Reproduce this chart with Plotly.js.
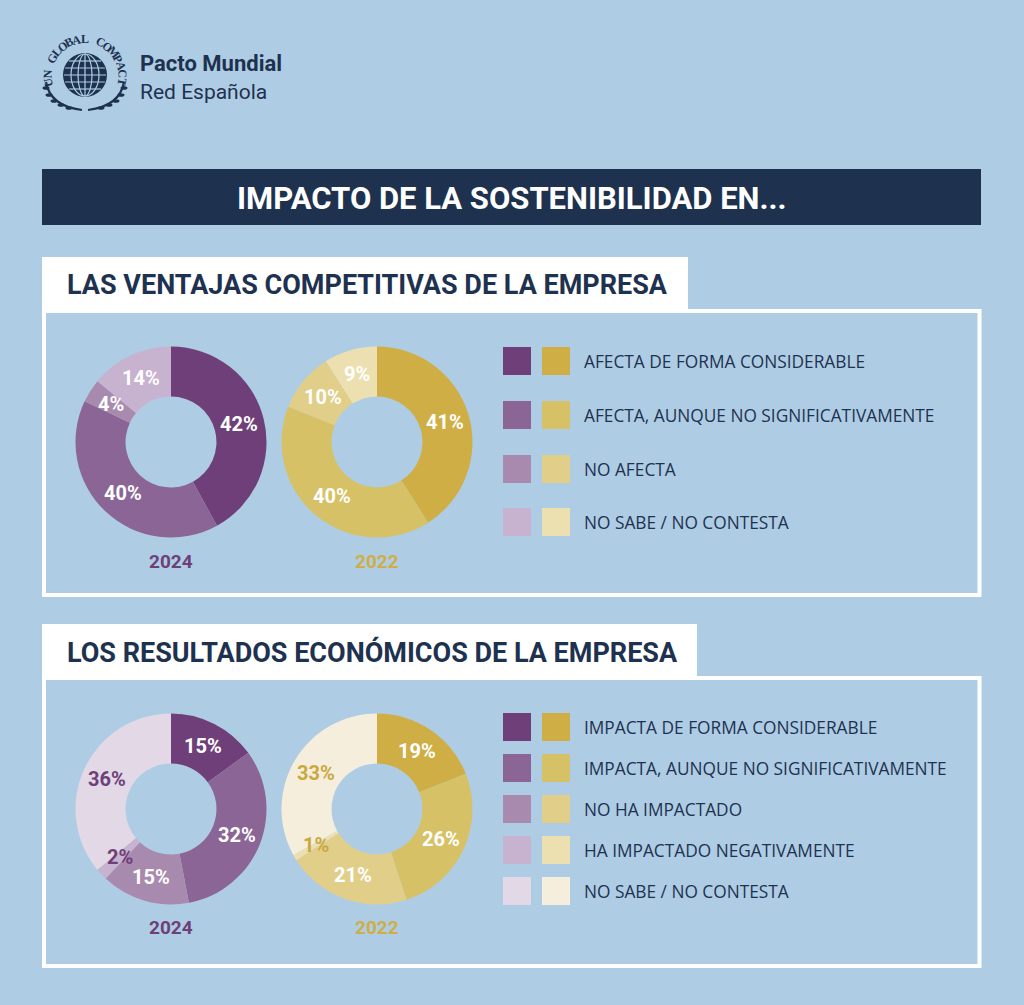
<!DOCTYPE html>
<html>
<head>
<meta charset="utf-8">
<script src="https://cdn.plot.ly/plotly-3.0.1.min.js"></script>
<style>
html,body{margin:0;padding:0;background:#AECDE4;}
#chart{width:1024px;height:1005px;}
</style>
</head>
<body>
<div id="chart"></div>
<script>
// ---------- DATA ----------
const years = ['2024', '2022'];
const titleMain = 'IMPACTO DE LA SOSTENIBILIDAD EN...';
const section1Title = 'LAS VENTAJAS COMPETITIVAS DE LA EMPRESA';
const section2Title = 'LOS RESULTADOS ECONÓMICOS DE LA EMPRESA';
const cats1 = ['AFECTA DE FORMA CONSIDERABLE', 'AFECTA, AUNQUE NO SIGNIFICATIVAMENTE', 'NO AFECTA', 'NO SABE / NO CONTESTA'];
const ventajas2024 = [42, 40, 4, 14];
const ventajas2022 = [41, 40, 10, 9];
const cats2 = ['IMPACTA DE FORMA CONSIDERABLE', 'IMPACTA, AUNQUE NO SIGNIFICATIVAMENTE', 'NO HA IMPACTADO', 'HA IMPACTADO NEGATIVAMENTE', 'NO SABE / NO CONTESTA'];
const resultados2024 = [15, 32, 15, 2, 36];
const resultados2022 = [19, 26, 21, 1, 33];
const purples = ['#6E3F78', '#8A6596', '#A88AAE', '#C7B2CF', '#E2D8E6'];
const golds = ['#CFAF45', '#D7C166', '#E1CE88', '#ECE0B0', '#F5EEDC'];
// label colours per slice (white on dark slices, tinted on pale ones)
const labelCol1_2024 = ['#FFFFFF', '#FFFFFF', '#FFFFFF', '#FFFFFF'];
const labelCol1_2022 = ['#FFFFFF', '#FFFFFF', '#FFFFFF', '#FFFFFF'];
const labelCol2_2024 = ['#FFFFFF', '#FFFFFF', '#FFFFFF', '#6E3F78', '#6E3F78'];
const labelCol2_2022 = ['#FFFFFF', '#FFFFFF', '#FFFFFF', '#C9A93F', '#C9A93F'];

// ---------- HELPERS ----------
const W = 1024, H = 1005;
const px = x => x / W;
const py = y => 1 - y / H;
const NAVY = '#1E3250';
const BG = '#AECDE4';
const HOLE = 0.476;
const R = 95.5;

const traces = [];
const annotations = [];
const shapes = [];

function donut(values, colors, labelColors, cx, cy, name) {
  traces.push({
    type: 'pie',
    values: values,
    labels: values.map((v, i) => name + '-' + i),
    sort: false,
    direction: 'clockwise',
    rotation: 0,
    hole: HOLE,
    marker: {colors: colors.slice(0, values.length), line: {width: 0}},
    textinfo: 'none',
    hoverinfo: 'none',
    showlegend: false,
    domain: {x: [px(cx - R), px(cx + R)], y: [py(cy + R), py(cy - R)]}
  });
  const total = values.reduce((a, b) => a + b, 0);
  let cum = 0;
  const rm = R * (1 + HOLE) / 2;
  values.forEach((v, i) => {
    const f = (cum + v / 2) / total;
    cum += v;
    const th = 2 * Math.PI * f;
    annotations.push({
      xref: 'paper', yref: 'paper',
      x: px(cx + rm * Math.sin(th)), y: py(cy - rm * Math.cos(th)),
      text: '<b>' + v + '%</b>', showarrow: false,
      xanchor: 'center', yanchor: 'middle',
      font: {family: 'Roboto, sans-serif', size: 20, color: labelColors[i]}
    });
  });
}

function text(x, y, t, size, color, family, anchor, extra) {
  annotations.push(Object.assign({
    xref: 'paper', yref: 'paper', x: px(x), y: py(y), text: t, showarrow: false,
    xanchor: anchor || 'left', yanchor: 'middle',
    font: {family: family || 'Roboto, sans-serif', size: size, color: color}
  }, extra || {}));
}

function rect(x0, y0, x1, y1, fill, line) {
  shapes.push({
    type: 'rect', xref: 'paper', yref: 'paper', layer: 'below',
    x0: px(x0), x1: px(x1), y0: py(y1), y1: py(y0),
    fillcolor: fill, line: line || {width: 0}
  });
}

// ---------- LOGO ----------
const gx = 85, gy = 75, gr = 22;
shapes.push({type: 'circle', xref: 'paper', yref: 'paper', x0: px(gx - gr), x1: px(gx + gr), y0: py(gy + gr), y1: py(gy - gr), fillcolor: NAVY, line: {width: 0}});
[7, 14].forEach(rx => {
  shapes.push({type: 'circle', xref: 'paper', yref: 'paper', x0: px(gx - rx), x1: px(gx + rx), y0: py(gy + gr - 1), y1: py(gy - gr + 1), line: {color: BG, width: 1.2}});
});
shapes.push({type: 'line', xref: 'paper', yref: 'paper', x0: px(gx), x1: px(gx), y0: py(gy + gr - 1), y1: py(gy - gr + 1), line: {color: BG, width: 1.2}});
[-14, -7, 0, 7, 14].forEach(dy => {
  const hw = Math.sqrt(gr * gr - dy * dy) - 1;
  shapes.push({type: 'line', xref: 'paper', yref: 'paper', x0: px(gx - hw), x1: px(gx + hw), y0: py(gy + dy), y1: py(gy + dy), line: {color: BG, width: 1.2}});
});
function pathPx(pts) {
  return pts.map((p, i) => (p[0] === 'Q' ? 'Q' + px(p[1]) + ',' + py(p[2]) + ' ' + px(p[3]) + ',' + py(p[4]) : (i === 0 ? 'M' : 'L') + px(p[0]) + ',' + py(p[1]))).join(' ');
}
shapes.push({type: 'path', xref: 'paper', yref: 'paper', path: pathPx([[46, 82], ['Q', 50, 106, 82, 110]]), line: {color: NAVY, width: 2.2}});
shapes.push({type: 'path', xref: 'paper', yref: 'paper', path: pathPx([[124, 82], ['Q', 120, 106, 88, 110]]), line: {color: NAVY, width: 2.2}});
// laurel leaves
[[46, 88], [49, 95], [54, 101], [61, 105], [69, 108]].forEach(p => {
  shapes.push({type: 'circle', xref: 'paper', yref: 'paper', x0: px(p[0] - 3.5), x1: px(p[0] + 3.5), y0: py(p[1] + 1.8), y1: py(p[1] - 1.8), fillcolor: NAVY, line: {width: 0}});
  const q = [2 * gx - p[0], p[1]];
  shapes.push({type: 'circle', xref: 'paper', yref: 'paper', x0: px(q[0] - 3.5), x1: px(q[0] + 3.5), y0: py(q[1] + 1.8), y1: py(q[1] - 1.8), fillcolor: NAVY, line: {width: 0}});
});
const arcText = 'UN GLOBAL COMPACT';
const a0 = -100, a1 = 100, ar = 37;
arcText.split('').forEach((ch, i) => {
  if (ch === ' ') return;
  const a = a0 + (a1 - a0) * i / (arcText.length - 1);
  const t = a * Math.PI / 180;
  annotations.push({
    xref: 'paper', yref: 'paper', x: px(gx + ar * Math.sin(t)), y: py(gy + 1 - ar * Math.cos(t)),
    text: '<b>' + ch + '</b>', showarrow: false, textangle: a, xanchor: 'center', yanchor: 'middle',
    font: {family: 'Liberation Serif, serif', size: 12, color: NAVY}
  });
});
text(138, 64, '<b>Pacto Mundial</b>', 22, NAVY, 'Roboto, sans-serif');
text(138, 92, 'Red Española', 21, NAVY, 'Roboto, sans-serif');

// ---------- HEADER BAR ----------
rect(42, 169, 981, 225, NAVY);
text(511, 198, '<b>' + titleMain + '</b>', 31, '#FFFFFF', 'Roboto, sans-serif', 'center');

// ---------- SECTION 1 ----------
rect(42, 257, 688, 311, '#FFFFFF');
rect(44, 311, 979.5, 595, 'rgba(0,0,0,0)', {color: '#FFFFFF', width: 4});
text(65, 285, '<b>' + section1Title + '</b>', 27, NAVY, 'Roboto, sans-serif');
donut(ventajas2024, purples, labelCol1_2024, 171, 442, 'v24');
donut(ventajas2022, golds, labelCol1_2022, 377, 442, 'v22');
text(171, 561, '<b>' + years[0] + '</b>', 19, purples[0], 'Roboto, sans-serif', 'center');
text(377, 561, '<b>' + years[1] + '</b>', 19, golds[0], 'Roboto, sans-serif', 'center');
const rows1 = [361, 415, 469, 522];
cats1.forEach((c, i) => {
  rect(503, rows1[i] - 14, 531, rows1[i] + 14, purples[i]);
  rect(542, rows1[i] - 14, 570, rows1[i] + 14, golds[i]);
  text(582, rows1[i], c, 17.3, NAVY, 'Open Sans, sans-serif');
});

// ---------- SECTION 2 ----------
rect(42, 624, 697, 678, '#FFFFFF');
rect(44, 678, 979.5, 966, 'rgba(0,0,0,0)', {color: '#FFFFFF', width: 4});
text(65, 652, '<b>' + section2Title + '</b>', 27, NAVY, 'Roboto, sans-serif');
donut(resultados2024, purples, labelCol2_2024, 171, 809, 'r24');
donut(resultados2022, golds, labelCol2_2022, 377, 809, 'r22');
text(171, 927, '<b>' + years[0] + '</b>', 19, purples[0], 'Roboto, sans-serif', 'center');
text(377, 927, '<b>' + years[1] + '</b>', 19, golds[0], 'Roboto, sans-serif', 'center');
const rows2 = [727, 768, 809, 850, 891];
cats2.forEach((c, i) => {
  rect(503, rows2[i] - 14, 531, rows2[i] + 14, purples[i]);
  rect(542, rows2[i] - 14, 570, rows2[i] + 14, golds[i]);
  text(582, rows2[i], c, 17.3, NAVY, 'Open Sans, sans-serif');
});

const layout = {
  width: W, height: H,
  margin: {l: 0, r: 0, t: 0, b: 0},
  paper_bgcolor: BG, plot_bgcolor: BG,
  showlegend: false,
  shapes: shapes,
  annotations: annotations
};
Plotly.newPlot('chart', traces, layout, {displayModeBar: false, staticPlot: true});
</script>
</body>
</html>
